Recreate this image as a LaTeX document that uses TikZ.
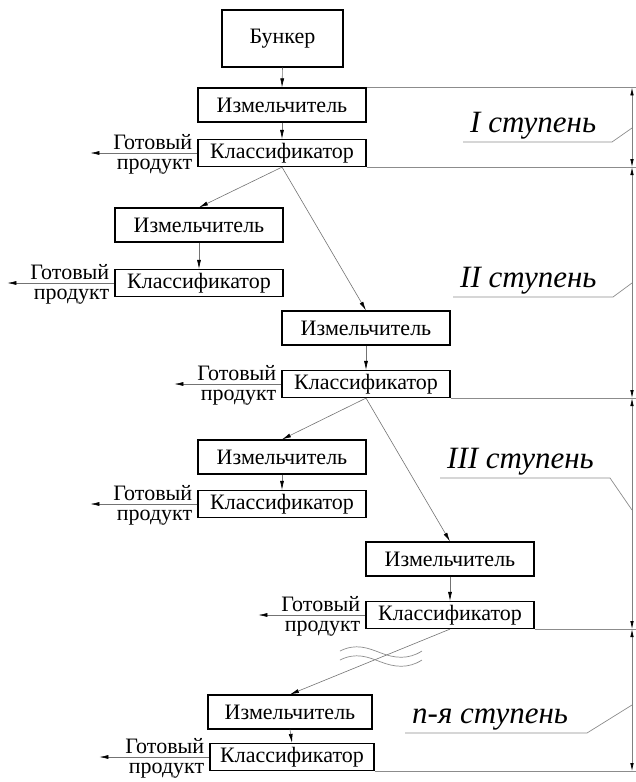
\documentclass[tikz,border=0pt]{standalone}
\usepackage{fontspec}
\setmainfont{Liberation Serif}
\newfontfamily\schemefont{Liberation Serif}
\usetikzlibrary{arrows.meta,positioning}

\begin{document}
\begin{tikzpicture}[
	x=1pt,y=-1pt,
	unitnode/.style={
		rectangle,draw=black,line width=1.2pt,inner sep=0pt,
		minimum width=168pt,text centered,font=\schemefont\fontsize{22}{24}\selectfont},
	crusher/.style={unitnode,minimum height=34pt},
	classifier/.style={unitnode,minimum height=27pt},
	flow/.style={-{Latex[length=9pt,width=4pt,color=black]},draw=black!55,line width=0.6pt},
	outtext/.style={inner sep=0pt,font=\schemefont\fontsize{22}{24}\selectfont},
	stagetext/.style={inner sep=0pt,anchor=base west,font=\schemefont\fontsize{31}{33}\selectfont\itshape},
	thinline/.style={draw=black!45,line width=0.7pt},
	dimline/.style={{Latex[length=8pt,width=3.5pt,color=black]}-{Latex[length=8pt,width=3.5pt,color=black]},
		draw=black!50,line width=0.7pt}
	]
	\useasboundingbox (0,0) rectangle (636,782);
	\node [unitnode, minimum width=121pt, minimum height=57pt] (bunker) at (282.5,38.5) {Бункер};
	% I
	\node [crusher] (crushA) at (282,105) {Измельчитель};
	\node [classifier] (classA) at (282,153) {Классификатор};
	% II
	\node [crusher] (crushB) at (199,225) {Измельчитель};
	\node [classifier] (classB) at (199,283) {Классификатор};
	\node [crusher] (crushC) at (366,328) {Измельчитель};
	\node [classifier] (classC) at (366,384) {Классификатор};
	% III
	\node [crusher] (crushD) at (282,457) {Измельчитель};
	\node [classifier] (classD) at (282,504) {Классификатор};
	\node [crusher] (crushE) at (450,559) {Измельчитель};
	\node [classifier] (classE) at (450,615) {Классификатор};
	% n
	\node [crusher, minimum width=164pt] (crushF) at (290,712) {Измельчитель};
	\node [classifier, minimum width=164pt] (classF) at (292,757) {Классификатор};

	\draw [flow] (bunker.south) -- (crushA.north);
	\draw [flow] (crushA.south) -- (classA.north);
	\draw [flow] (classA.south) -- (crushB.north);
	\draw [flow] (classA.south) -- (crushC.north);
	\draw [flow] (crushB.south) -- (classB.north);
	\draw [flow] (crushC.south) -- (classC.north);
	\draw [flow] (classC.south) -- (crushD.north);
	\draw [flow] (classC.south) -- (crushE.north);
	\draw [flow] (crushD.south) -- (classD.north);
	\draw [flow] (crushE.south) -- (classE.north);
	\draw [flow] (classE.south) -- (crushF.north);
	\draw [flow] (crushF.south) -- (classF.north);
	% break mark
	\draw [thinline] (340,651) .. controls (356,643) and (368,648) .. (381,653)
		.. controls (394,658) and (408,660) .. (422,651);
	\draw [thinline] (340,660) .. controls (356,652) and (368,657) .. (381,662)
		.. controls (394,667) and (408,669) .. (422,660);

	% finished product
	\coordinate [left=107pt of classA.west] (outA);
	\coordinate [left=107pt of classB.west] (outB);
	\coordinate [left=107pt of classC.west] (outC);
	\coordinate [left=107pt of classD.west] (outD);
	\coordinate [left=107pt of classE.west] (outE);
	\coordinate [left=110pt of classF.west] (outF);
	\draw [flow] (classA.west) -- (outA);
	\draw [flow] (classB.west) -- (outB);
	\draw [flow] (classC.west) -- (outC);
	\draw [flow] (classD.west) -- (outD);
	\draw [flow] (classE.west) -- (outE);
	\draw [flow] (classF.west) -- (outF);
	\node [outtext, anchor=base east] (readyA) at ([shift={(-5pt,4pt)}]classA.west) {Готовый};
	\node [outtext, anchor=base east] (prodA) at ([shift={(-5pt,-16pt)}]classA.west) {продукт};
	\node [outtext, anchor=base east] (readyB) at ([shift={(-5pt,4pt)}]classB.west) {Готовый};
	\node [outtext, anchor=base east] (prodB) at ([shift={(-5pt,-16pt)}]classB.west) {продукт};
	\node [outtext, anchor=base east] (readyC) at ([shift={(-5pt,4pt)}]classC.west) {Готовый};
	\node [outtext, anchor=base east] (prodC) at ([shift={(-5pt,-16pt)}]classC.west) {продукт};
	\node [outtext, anchor=base east] (readyD) at ([shift={(-5pt,4pt)}]classD.west) {Готовый};
	\node [outtext, anchor=base east] (prodD) at ([shift={(-5pt,-16pt)}]classD.west) {продукт};
	\node [outtext, anchor=base east] (readyE) at ([shift={(-5pt,4pt)}]classE.west) {Готовый};
	\node [outtext, anchor=base east] (prodE) at ([shift={(-5pt,-16pt)}]classE.west) {продукт};
	\node [outtext, anchor=base east] (readyF) at ([shift={(-5pt,4pt)}]classF.west) {Готовый};
	\node [outtext, anchor=base east] (prodF) at ([shift={(-5pt,-16pt)}]classF.west) {продукт};

	% stage borders
	\coordinate (rim) at (636,0);
	\coordinate (dimx) at (632,0);
	\draw [thinline] (crushA.north east) -- (crushA.north east -| rim);
	\draw [thinline] (classA.south east) -- (classA.south east -| rim);
	\draw [thinline] (classC.south east) -- (classC.south east -| rim);
	\draw [thinline] (classE.south east) -- (classE.south east -| rim);
	\draw [thinline] (classF.south east) -- (classF.south east -| rim);
	\draw [dimline] (crushA.north east -| dimx) -- (classA.south east -| dimx);
	\draw [dimline] (classA.south east -| dimx) -- (classC.south east -| dimx);
	\draw [dimline] (classC.south east -| dimx) -- (classE.south east -| dimx);
	\draw [dimline] (classE.south east -| dimx) -- (classF.south east -| dimx);

	% stage labels
	\node [stagetext] (stI) at (470,132) {I ступень};
	\node [stagetext] (stII) at (460,287) {II ступень};
	\node [stagetext] (stIII) at (447,468) {III ступень};
	\node [stagetext] (stN) at (412,723) {n-я ступень};
	\coordinate (tipI) at (632,128);
	\coordinate (tipII) at (632,283);
	\coordinate (tipIII) at (632,510);
	\coordinate (tipN) at (632,705);
	\draw [thinline] ([shift={(-7pt,-10pt)}]stI.base west) -- ++(149,0) -- (tipI);
	\draw [thinline] ([shift={(-7pt,-10pt)}]stII.base west) -- ++(160,0) -- (tipII);
	\draw [thinline] ([shift={(-7pt,-10pt)}]stIII.base west) -- ++(170,0) -- (tipIII);
	\draw [thinline] ([shift={(-7pt,-10pt)}]stN.base west) -- ++(182,0) -- (tipN);
\end{tikzpicture}
\end{document}
